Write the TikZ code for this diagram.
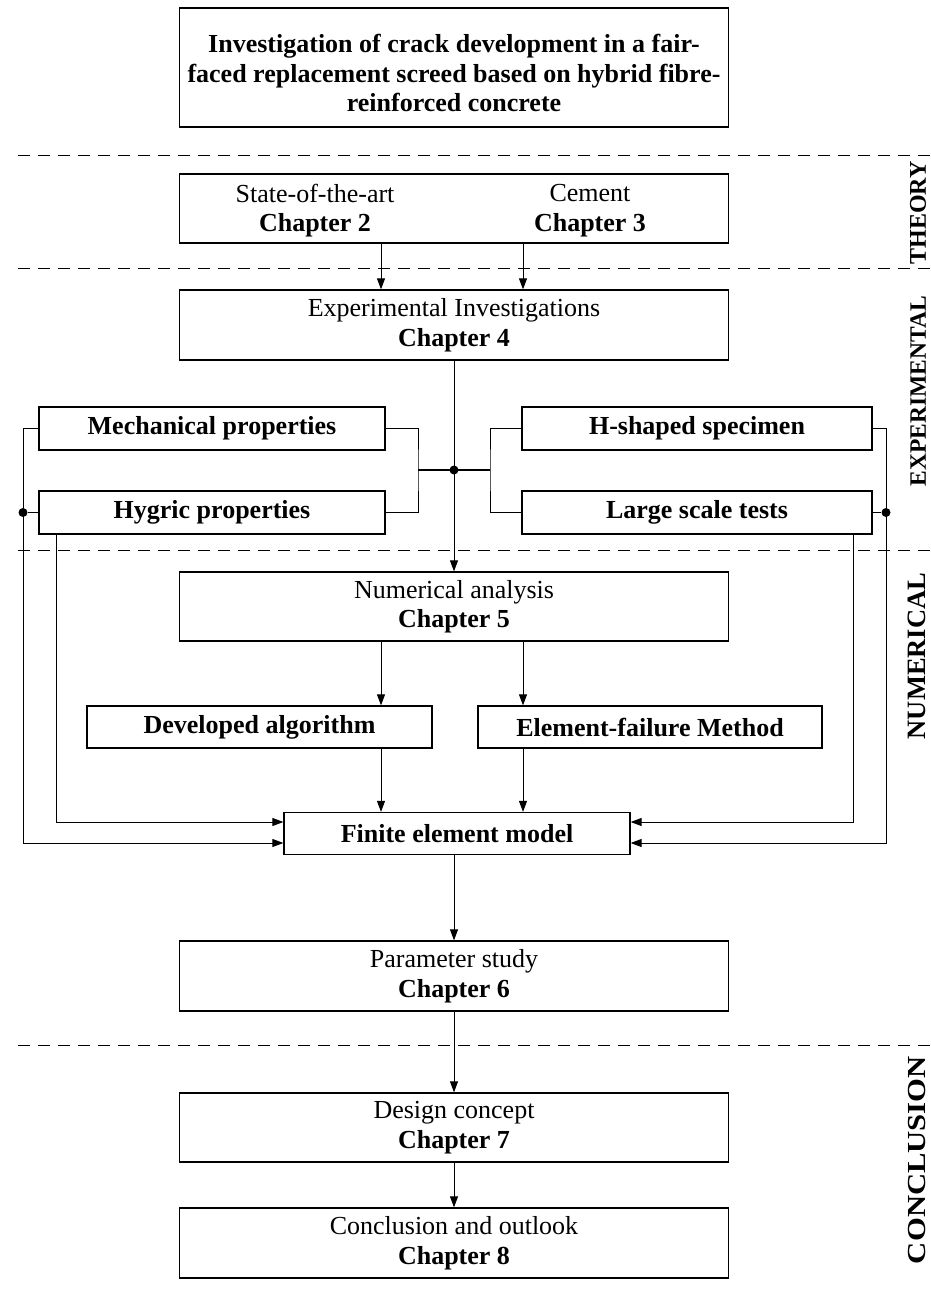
\documentclass[tikz,border=0pt]{standalone}
\usepackage{fontspec}
\setmainfont{Liberation Serif}
\usetikzlibrary{arrows.meta,calc}
\begin{document}
\begin{tikzpicture}[x=1pt,y=-1pt,
  box/.style={draw,line width=1.3pt,rectangle,inner sep=0pt,align=center,
    font=\fontsize{26}{29.5}\selectfont},
  bigbox/.style={box,minimum width=549pt,minimum height=70pt},
  smallbox/.style={box,minimum height=43pt,font=\fontsize{26}{29.5}\selectfont\bfseries},
  txt/.style={inner sep=0pt,align=center,font=\fontsize{26}{29.5}\selectfont},
  conn/.style={line width=1pt},
  arr/.style={conn,-{Triangle[length=11pt,width=8pt]}},
  sep/.style={line width=1pt,dash pattern=on 12pt off 8pt},
  side/.style={rotate=90,inner sep=0pt,font=\fontsize{24}{28}\selectfont\bfseries},
  dot/.style={circle,fill,inner sep=0pt,minimum size=9pt}]
\useasboundingbox (0,0) rectangle (931,1314);

% separators
\coordinate (s1a) at (18,155); \coordinate (s1b) at (931,155);
\coordinate (s2a) at (18,268); \coordinate (s2b) at (931,268);
\coordinate (s3a) at (18,550); \coordinate (s3b) at (931,550);
\coordinate (s4a) at (18,1045); \coordinate (s4b) at (931,1045);
\draw[sep] (s1a) -- (s1b);
\draw[sep] (s2a) -- (s2b);
\draw[sep] (s3a) -- (s3b);
\draw[sep] (s4a) -- (s4b);

% side labels
\node[side] (lth) at (918,213) {THEORY};
\node[side,font=\fontsize{23.5}{28}\selectfont\bfseries] (lex) at (918,391) {EXPERIMENTAL};
\node[side,font=\fontsize{26.5}{30}\selectfont\bfseries] (lnu) at (917,656) {NUMERICAL};
\node[side,font=\fontsize{26}{30}\selectfont\bfseries] (lco) at (917,1160) {\scalebox{1.18}[1]{CONCLUSION}};

% main boxes
\node[bigbox,minimum height=119pt] (title) at (454,67.5) {};
\node[txt,font=\fontsize{26}{29.5}\selectfont\bfseries] (titletxt) at (454,73)
  {Investigation of crack development in a fair-\\faced replacement screed based on hybrid fibre-\\reinforced concrete};
\node[bigbox,minimum height=69pt] (theory) at (454,208.5) {};
\node[txt] (soa) at (315,210.5) {State-of-the-art\\\textbf{Chapter 2}};
\node[txt] (cem) at (590,210.5) {Cement\\\textbf{Chapter 3}};
\node[bigbox] (exp) at (454,325) {Experimental Investigations\\\textbf{Chapter 4}};

\node[smallbox,minimum width=346pt] (mech) at (212,428.5) {Mechanical properties};
\node[smallbox,minimum width=346pt] (hyg) at (212,512.5) {Hygric properties};
\node[smallbox,minimum width=350pt] (hsh) at (697,428.5) {H-shaped specimen};
\node[smallbox,minimum width=350pt] (lst) at (697,512.5) {Large scale tests};

\node[bigbox,minimum height=69pt] (num) at (454,606.5) {Numerical analysis\\\textbf{Chapter 5}};
\node[smallbox,minimum width=345pt,minimum height=42pt] (dev) at (259.5,727) {Developed algorithm};
\node[smallbox,minimum width=344pt,minimum height=42pt] (efm) at (650,727) {Element-failure Method};
\node[smallbox,minimum width=346pt,minimum height=42pt] (fem) at (457,833.5) {Finite element model};

\node[bigbox] (par) at (454,976) {Parameter study\\\textbf{Chapter 6}};
\node[bigbox,minimum height=69pt] (des) at (454,1127.5) {Design concept\\\textbf{Chapter 7}};
\node[bigbox] (con) at (454,1243) {Conclusion and outlook\\\textbf{Chapter 8}};

% helper coordinates
\coordinate (xa) at (381,0);
\coordinate (xb) at (523,0);
\coordinate (J) at (454,470);
\coordinate (bl) at (418,470);
\coordinate (br) at (490,470);
\coordinate (xLo) at (23,0);
\coordinate (xLi) at (56,0);
\coordinate (xRo) at (886,0);
\coordinate (xRi) at (853,0);
\coordinate (yA) at (0,822);
\coordinate (yB) at (0,843);

% theory -> experimental
\draw[arr] (theory.south -| xa) -- (exp.north -| xa);
\draw[arr] (theory.south -| xb) -- (exp.north -| xb);

% experimental -> numerical with junction
\draw[arr] (exp.south) -- (num.north);
\draw[conn] (mech.east) -| (bl) |- (hyg.east);
\draw[conn] (hsh.west) -| (br) |- (lst.west);
\draw[conn,line width=1.6pt] (bl) -- (J) -- (br);
\node[dot] (jd) at (J) {};

% outer feedbacks to FE model
\node[dot] (dl) at (hyg.west -| xLo) {};
\node[dot] (dr) at (lst.east -| xRo) {};
\draw[conn] (hyg.west) -- (dl);
\draw[conn] (lst.east) -- (dr);
\draw[arr] (mech.west) -| (xLo |- yB) -- (fem.west |- yB);
\draw[arr] (hsh.east) -| (xRo |- yB) -- (fem.east |- yB);
\draw[arr] (hyg.south -| xLi) -- (xLi |- yA) -- (fem.west |- yA);
\draw[arr] (lst.south -| xRi) -- (xRi |- yA) -- (fem.east |- yA);

% numerical -> methods -> FE
\draw[arr] (num.south -| xa) -- (dev.north -| xa);
\draw[arr] (num.south -| xb) -- (efm.north -| xb);
\draw[arr] (dev.south -| xa) -- (fem.north -| xa);
\draw[arr] (efm.south -| xb) -- (fem.north -| xb);

% FE -> parameter -> design -> conclusion
\draw[arr] (fem.south -| J) -- (par.north -| J);
\draw[arr] (par.south) -- (des.north);
\draw[arr] (des.south) -- (con.north);
\end{tikzpicture}
\end{document}
